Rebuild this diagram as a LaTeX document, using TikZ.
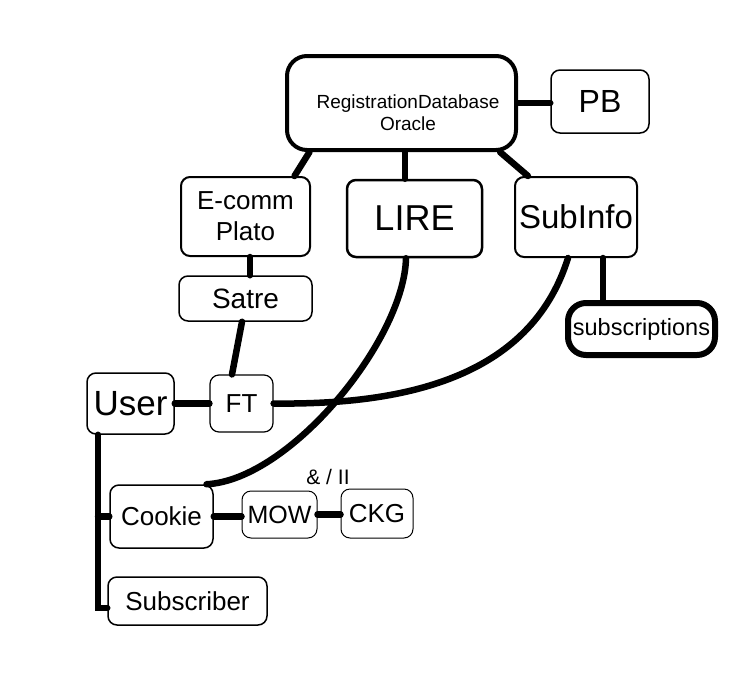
\documentclass[tikz,border=0pt]{standalone}
\usepackage{fontspec}
\setmainfont{Liberation Sans}
\tikzset{
    % Plain box - thin rounded frame
    box/.style={draw, rounded corners=9pt, line width=1.5pt, inner sep=0pt, align=center},
    % Database box - heavy frame
    db box/.style={box, line width=4pt, rounded corners=20pt},
    % Table box - heaviest frame
    table box/.style={box, line width=6pt, rounded corners=18pt},
    % Links between boxes - thick black lines
    link/.style={line width=6.5pt, line cap=round},
    % Text sizes
    fs/.style={font=\fontsize{#1}{#1}\selectfont}
}

\begin{document}
\begin{tikzpicture}[x=1pt, y=-1pt]
    % --- Canvas ---
    \useasboundingbox (0,0) rectangle (753,689);

    % --- Top row: database and its neighbours ---
    \node[db box, minimum width=229, minimum height=94,
        label={[font=\fontsize{19}{22}\selectfont, align=center, xshift=6.5, yshift=-10]center:RegistrationDatabase\\Oracle}]
        (regdb) at (401.5,103) {};
    \node[box, minimum width=98, minimum height=63, fs=32] (pb) at (600,101.5) {PB};

    % --- Second row ---
    \node[box, line width=2pt, minimum width=129, minimum height=79, font=\fontsize{26}{31}\selectfont] (ecomm) at (245.5,216.5) {E-comm\\Plato};
    \node[box, line width=2.5pt, minimum width=135, minimum height=77, fs=36] (lire) at (414.5,218.5) {LIRE};
    \node[box, line width=2pt, minimum width=122, minimum height=80, fs=33] (subinfo) at (576,217) {SubInfo};

    % --- Third row ---
    \node[box, minimum width=133, minimum height=45, fs=28] (satre) at (245.5,298.5) {Satre};
    \node[table box, minimum width=147, minimum height=52, fs=23.5] (subscr) at (641.5,329) {subscriptions};

    % --- User side ---
    \node[box, minimum width=87, minimum height=61, fs=35] (user) at (130.5,403.5) {User};
    \node[box, line width=1.2pt, minimum width=63, minimum height=57, fs=26] (ft) at (241.5,403.5) {FT};
    \node[box, minimum width=103, minimum height=63, fs=26] (cookie) at (161.5,516.5) {Cookie};
    \node[box, line width=1pt, minimum width=75, minimum height=47, fs=25] (mow) at (279.5,514.5) {MOW};
    \node[box, line width=1pt, minimum width=72, minimum height=49, fs=26] (ckg) at (377,513.5) {CKG};
    \node[box, minimum width=159, minimum height=48, fs=26] (subscriber) at (187.5,601) {Subscriber};
    \node[fs=21] (andor) at (328,477) {\& / II};

    % --- Links ---
    \draw[link] ([xshift=-92]regdb.south) -- ([xshift=49]ecomm.north);
    \draw[link] ([xshift=3.5]regdb.south) -- ([xshift=-9.5]lire.north);
    \draw[link] ([xshift=98.5]regdb.south) -- ([xshift=-48]subinfo.north);
    \draw[link] (regdb.east) -- (regdb.east -| pb.west);
    \draw[link] ([xshift=4.5]ecomm.south) -- ([xshift=4.5]satre.north);
    \draw[link] ([xshift=-3.5]satre.south) -- ([xshift=-9.5]ft.north);
    \draw[link] ([xshift=27]subinfo.south) -- ([xshift=-38.5]subscr.north);
    \draw[link] ([xshift=-8.5]lire.south) .. controls (404,340) and (290,480) .. ([xshift=45]cookie.north);
    \draw[link] ([xshift=-8]subinfo.south) .. controls (530,380) and (400,405) .. (ft.east);
    \draw[link] (user.east) -- (ft.west);

    % User trunk down to Cookie and Subscriber
    \coordinate (trunk) at ([xshift=-32.5]user.south);
    \draw[link] (trunk) |- ([yshift=-7]subscriber.west);
    \draw[link] (cookie.west) -- (cookie.west -| trunk);
    \draw[link] (cookie.east) -- (cookie.east -| mow.west);
    \draw[link] (mow.east) -- (mow.east -| ckg.west);

\end{tikzpicture}
\end{document}
